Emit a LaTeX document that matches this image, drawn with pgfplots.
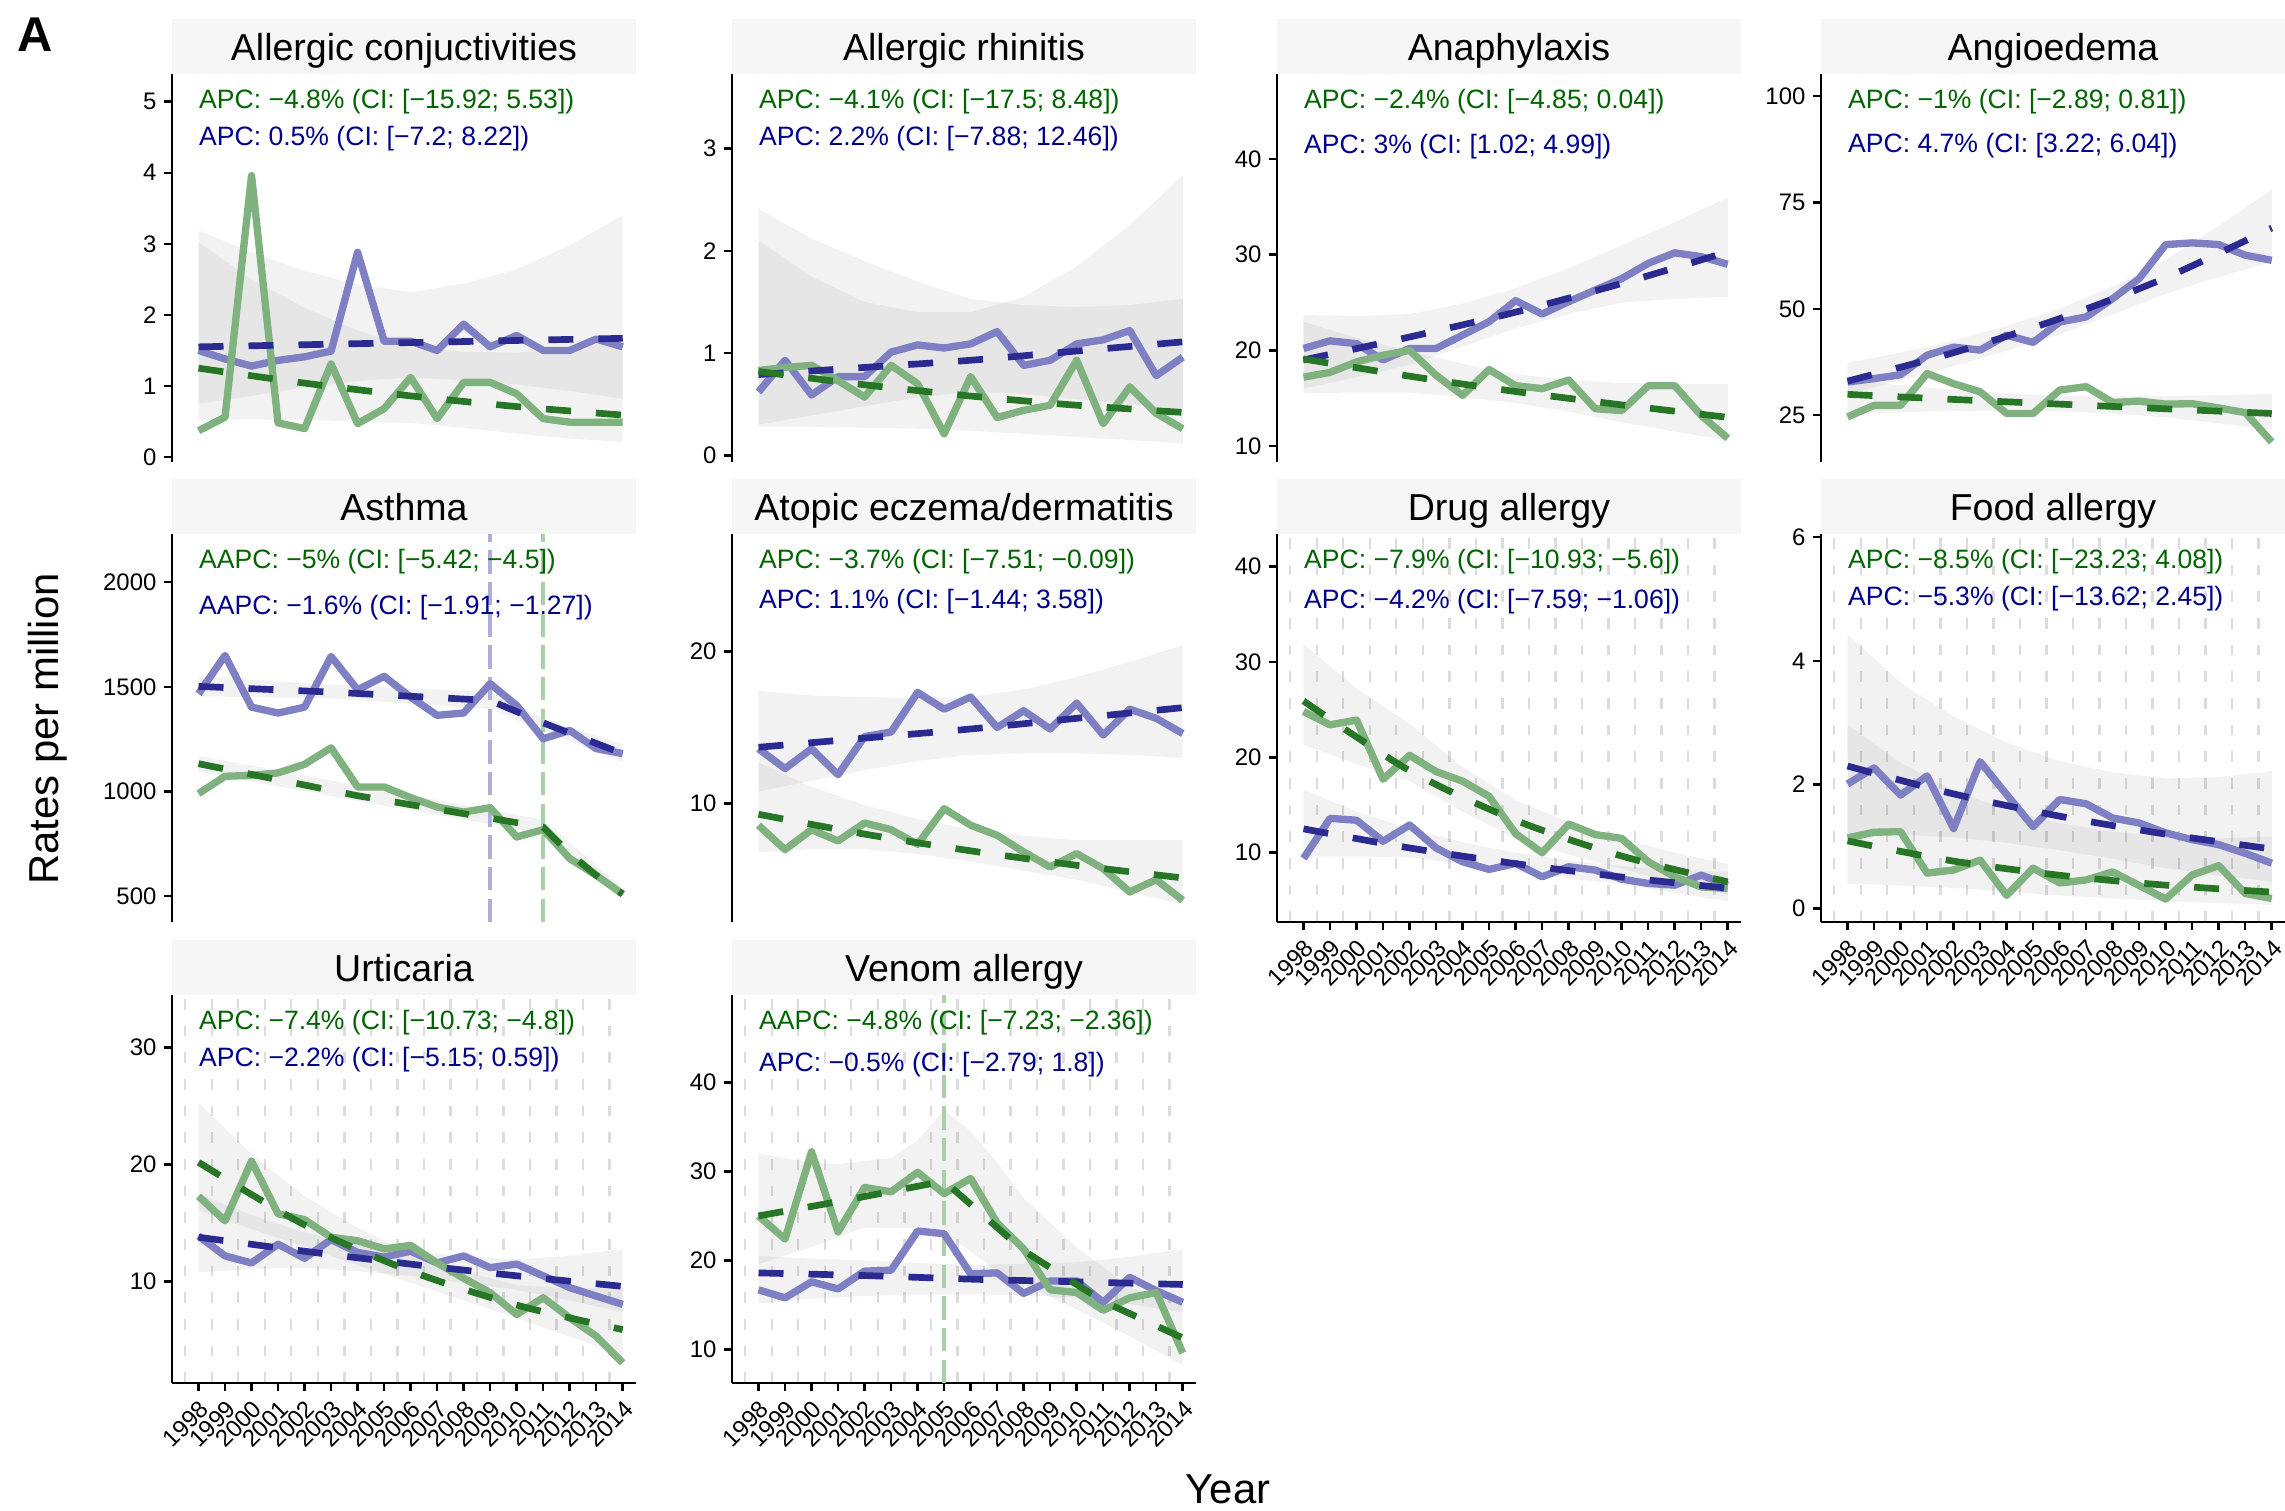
\documentclass[border=0pt]{standalone}
\usepackage{pgfplots}
\pgfplotsset{compat=1.18}
\usepackage{fontspec}
\setmainfont{Liberation Sans}
\definecolor{lineblue}{RGB}{127,127,196}
\definecolor{linegreen}{RGB}{127,178,127}
\definecolor{fitblue}{RGB}{42,42,145}
\definecolor{fitgreen}{RGB}{38,118,38}
\definecolor{txtgreen}{RGB}{0,100,0}
\definecolor{txtblue}{RGB}{0,0,139}
\definecolor{stripfill}{RGB}{246,246,246}
\definecolor{gridgray}{RGB}{220,220,220}
\definecolor{vblue}{RGB}{174,174,222}
\definecolor{vgreen}{RGB}{170,208,170}
\pgfplotsset{
  /pgf/number format/1000 sep={},
  /pgf/number format/assume math mode=true,
  panel/.style={
    scale only axis, width=139.2bp, height=116.4bp, anchor=south west,
    xmin=1997, xmax=2014.5, clip=false,
    axis x line*=bottom, axis y line*=left,
    axis line style={black, line width=0.75bp},
    tick style={black, line width=0.75bp},
    tick align=outside, major tick length=2.5bp,
    minor xtick={1997.5,1998.5,...,2013.5},
    minor tick length=0pt,
    xminorgrids=true,
    minor x grid style={gridgray, line width=0.7bp, dash pattern=on 3.2bp off 4.8bp},
    ticklabel style={font=\fontsize{7.2}{8.6}\selectfont, text=black},
    yticklabel style={inner sep=2pt},
    xtick={1998,1999,...,2014},
    xticklabel style={rotate=45, anchor=north east, inner sep=1.5pt},
  },
  noxaxis/.style={x axis line style={draw=none}, xtick=\empty},
  dataB/.style={lineblue, line width=2.2bp, line join=round},
  dataG/.style={linegreen, line width=2.2bp, line join=round},
  fitB/.style={fitblue, line width=2bp, dash pattern=on 7.5bp off 7.5bp, smooth},
  fitG/.style={fitgreen, line width=2bp, dash pattern=on 7.5bp off 7.5bp, smooth},
  fitBs/.style={fitblue, line width=2bp, dash pattern=on 7.5bp off 7.5bp},
  fitGs/.style={fitgreen, line width=2bp, dash pattern=on 7.5bp off 7.5bp},
  bandfill/.style={fill=black, fill opacity=0.05, draw=none},
  vline/.style={line width=1.2bp, dash pattern=on 7bp off 2.5bp},
}
\newcommand{\stripat}[3]{%
  \fill[stripfill] (#1,#2) rectangle ++(139.2bp,16.5bp);
  \path (#1,#2) ++(69.6bp,3.9bp) node[anchor=base, font=\fontsize{11.3}{13.5}\selectfont, inner sep=0pt] {#3};}
\newcommand{\gtext}[1]{\node[anchor=west, inner sep=0pt, text=txtgreen, font=\fontsize{8}{9.6}\selectfont] at (rel axis cs:0.05714,0.928) {#1};}
\newcommand{\btext}[2]{\node[anchor=west, inner sep=0pt, text=txtblue, font=\fontsize{8}{9.6}\selectfont] at (rel axis cs:0.05714,#1) {#2};}

\begin{document}
\begin{tikzpicture}
\useasboundingbox (0,0) rectangle (685.5bp,453.3bp);

% ---------- Row 1 ----------
\begin{axis}[panel, noxaxis, at={(51.6bp,314.7bp)}, ymin=-0.07, ymax=5.39, ytick={0,1,2,3,4,5}]
\addplot[bandfill] coordinates {(1998,3.19) (2000,2.88) (2002,2.62) (2004,2.43) (2006,2.32) (2008,2.44) (2010,2.64) (2012,2.98) (2014,3.40) (2014,0.82) (2012,0.93) (2010,1.02) (2008,1.08) (2006,1.12) (2004,1.07) (2002,0.98) (2000,0.86) (1998,0.75)};
\addplot[bandfill] coordinates {(1998,3.02) (2000,2.50) (2002,2.10) (2004,1.78) (2006,1.55) (2008,1.48) (2010,1.47) (2012,1.52) (2014,1.65) (2014,0.21) (2012,0.26) (2010,0.33) (2008,0.41) (2006,0.48) (2004,0.50) (2002,0.52) (2000,0.53) (1998,0.52)};
\addplot[dataB] coordinates {(1998,1.50) (1999,1.38) (2000,1.28) (2001,1.36) (2002,1.41) (2003,1.49) (2004,2.88) (2005,1.63) (2006,1.63) (2007,1.50) (2008,1.87) (2009,1.55) (2010,1.71) (2011,1.50) (2012,1.50) (2013,1.66) (2014,1.55)};
\addplot[dataG] coordinates {(1998,0.37) (1999,0.56) (2000,3.96) (2001,0.48) (2002,0.40) (2003,1.31) (2004,0.47) (2005,0.68) (2006,1.12) (2007,0.54) (2008,1.05) (2009,1.05) (2010,0.89) (2011,0.54) (2012,0.49) (2013,0.49) (2014,0.49)};
\addplot[fitB] coordinates {(1998,1.55) (2002,1.58) (2006,1.61) (2010,1.64) (2014,1.67)};
\addplot[fitG] coordinates {(1998,1.25) (2002,1.04) (2006,0.86) (2010,0.71) (2014,0.59)};
\gtext{APC: −4.8\% (CI: [−15.92; 5.53])}
\btext{0.8325}{APC: 0.5\% (CI: [−7.2; 8.22])}
\end{axis}

\begin{axis}[panel, noxaxis, at={(219.6bp,314.7bp)}, ymin=-0.065, ymax=3.73, ytick={0,1,2,3}]
\addplot[bandfill] coordinates {(1998,2.10) (2000,1.75) (2002,1.50) (2004,1.40) (2006,1.40) (2008,1.55) (2010,1.85) (2012,2.25) (2014,2.74) (2014,0.45) (2012,0.50) (2010,0.55) (2008,0.60) (2006,0.62) (2004,0.57) (2002,0.48) (2000,0.39) (1998,0.30)};
\addplot[bandfill] coordinates {(1998,2.41) (2000,2.12) (2002,1.90) (2004,1.70) (2006,1.53) (2008,1.47) (2010,1.45) (2012,1.47) (2014,1.53) (2014,0.117) (2012,0.15) (2010,0.18) (2008,0.21) (2006,0.24) (2004,0.26) (2002,0.27) (2000,0.28) (1998,0.28)};
\addplot[dataB] coordinates {(1998,0.62) (1999,0.93) (2000,0.59) (2001,0.77) (2002,0.77) (2003,1.01) (2004,1.08) (2005,1.05) (2006,1.09) (2007,1.21) (2008,0.88) (2009,0.93) (2010,1.09) (2011,1.13) (2012,1.22) (2013,0.78) (2014,0.96)};
\addplot[dataG] coordinates {(1998,0.83) (1999,0.86) (2000,0.88) (2001,0.73) (2002,0.57) (2003,0.88) (2004,0.70) (2005,0.21) (2006,0.77) (2007,0.37) (2008,0.44) (2009,0.49) (2010,0.93) (2011,0.31) (2012,0.67) (2013,0.41) (2014,0.26)};
\addplot[fitB] coordinates {(1998,0.79) (2002,0.86) (2006,0.93) (2010,1.02) (2014,1.11)};
\addplot[fitG] coordinates {(1998,0.82) (2002,0.69) (2006,0.58) (2010,0.49) (2014,0.42)};
\gtext{APC: −4.1\% (CI: [−17.5; 8.48])}
\btext{0.8325}{APC: 2.2\% (CI: [−7.88; 12.46])}
\end{axis}

\begin{axis}[panel, noxaxis, at={(383.1bp,314.7bp)}, ymin=8.33, ymax=48.9, ytick={10,20,30,40}]
\addplot[bandfill] coordinates {(1998,23.7) (2000,23.6) (2002,23.8) (2004,24.9) (2006,26.5) (2008,28.6) (2010,31.0) (2012,33.4) (2014,36.0) (2014,25.6) (2012,25.4) (2010,25.0) (2008,23.8) (2006,22.3) (2004,20.4) (2002,18.5) (2000,17.2) (1998,16.0)};
\addplot[bandfill] coordinates {(1998,23.0) (2000,21.3) (2002,19.9) (2004,18.6) (2006,17.5) (2008,16.9) (2010,16.6) (2012,16.5) (2014,16.5) (2014,10.6) (2012,11.5) (2010,12.5) (2008,13.6) (2006,14.5) (2004,15.1) (2002,15.6) (2000,15.6) (1998,15.5)};
\addplot[dataB] coordinates {(1998,20.2) (1999,21.0) (2000,20.7) (2001,19.0) (2002,20.2) (2003,20.2) (2004,21.6) (2005,23.0) (2006,25.2) (2007,23.8) (2008,25.1) (2009,26.3) (2010,27.5) (2011,29.1) (2012,30.2) (2013,29.8) (2014,29.0)};
\addplot[dataG] coordinates {(1998,17.2) (1999,17.7) (2000,18.8) (2001,19.5) (2002,20.0) (2003,17.4) (2004,15.3) (2005,18.0) (2006,16.3) (2007,16.0) (2008,16.9) (2009,13.9) (2010,13.7) (2011,16.3) (2012,16.3) (2013,13.2) (2014,10.8)};
\addplot[fitB] coordinates {(1998,19.0) (2002,21.4) (2006,24.0) (2010,27.0) (2014,30.3)};
\addplot[fitG] coordinates {(1998,19.1) (2002,17.3) (2006,15.7) (2010,14.3) (2014,13.0)};
\gtext{APC: −2.4\% (CI: [−4.85; 0.04])}
\btext{0.8126}{APC: 3\% (CI: [1.02; 4.99])}
\end{axis}

\begin{axis}[panel, noxaxis, at={(546.3bp,314.7bp)}, ymin=14.0, ymax=105.2, ytick={25,50,75,100}]
\addplot[bandfill] coordinates {(1998,37.3) (2000,39.7) (2002,42.5) (2004,46.0) (2006,50.0) (2008,55.3) (2010,61.5) (2012,69.5) (2014,78.0) (2014,61.0) (2012,57.5) (2010,53.5) (2008,48.7) (2006,44.0) (2004,40.1) (2002,36.5) (2000,33.2) (1998,30.0)};
\addplot[bandfill] coordinates {(1998,33.5) (2000,32.0) (2002,31.0) (2004,30.1) (2006,29.5) (2008,29.4) (2010,29.5) (2012,29.7) (2014,30.0) (2014,21.5) (2012,23.1) (2010,24.5) (2008,25.4) (2006,26.0) (2004,26.1) (2002,26.0) (2000,25.7) (1998,25.3)};
\addplot[dataB] coordinates {(1998,32.8) (1999,33.6) (2000,34.5) (2001,39.1) (2002,41.0) (2003,40.3) (2004,43.8) (2005,42.1) (2006,46.9) (2007,48.1) (2008,52.4) (2009,57.1) (2010,65.1) (2011,65.5) (2012,65.1) (2013,62.6) (2014,61.4)};
\addplot[dataG] coordinates {(1998,24.6) (1999,27.3) (2000,27.3) (2001,34.8) (2002,32.4) (2003,30.5) (2004,25.4) (2005,25.4) (2006,30.9) (2007,31.7) (2008,28.0) (2009,28.3) (2010,27.6) (2011,27.7) (2012,26.7) (2013,25.6) (2014,18.7)};
\addplot[fitB] coordinates {(1998,33.0) (2002,39.7) (2006,47.7) (2010,57.3) (2014,69.0)};
\addplot[fitG] coordinates {(1998,29.9) (2002,28.7) (2006,27.6) (2010,26.5) (2014,25.4)};
\gtext{APC: −1\% (CI: [−2.89; 0.81])}
\btext{0.815}{APC: 4.7\% (CI: [3.22; 6.04])}
\end{axis}

% ---------- Row 2 ----------
\begin{axis}[panel, noxaxis, at={(51.6bp,176.7bp)}, ymin=377, ymax=2230, ytick={500,1000,1500,2000}]
\addplot[bandfill] coordinates {(1998,1550) (2003,1510) (2009,1475) (2011,1350) (2014,1225) (2014,1140) (2011,1290) (2009,1395) (2003,1445) (1998,1455)};
\addplot[bandfill] coordinates {(1998,1170) (2004,1030) (2011,865) (2014,540) (2014,485) (2011,800) (2004,955) (1998,1095)};
\addplot[vline, vblue] coordinates {(2009,377) (2009,2230)};
\addplot[vline, vgreen] coordinates {(2011,377) (2011,2230)};
\addplot[dataB] coordinates {(1998,1467) (1999,1650) (2000,1403) (2001,1375) (2002,1403) (2003,1645) (2004,1486) (2005,1550) (2006,1451) (2007,1364) (2008,1375) (2009,1515) (2010,1411) (2011,1252) (2012,1292) (2013,1205) (2014,1181)};
\addplot[dataG] coordinates {(1998,990) (1999,1073) (2000,1077) (2001,1089) (2002,1130) (2003,1209) (2004,1022) (2005,1022) (2006,971) (2007,926) (2008,902) (2009,923) (2010,783) (2011,818) (2012,680) (2013,600) (2014,510)};
\addplot[fitBs] coordinates {(1998,1502) (2003,1475) (2009,1435) (2011,1328) (2014,1181)};
\addplot[fitGs] coordinates {(1998,1133) (2004,980) (2011,830) (2012,705) (2013,600) (2014,510)};
\gtext{AAPC: −5\% (CI: [−5.42; −4.5])}
\btext{0.811}{AAPC: −1.6\% (CI: [−1.91; −1.27])}
\end{axis}

\begin{axis}[panel, noxaxis, at={(219.6bp,176.7bp)}, ymin=2.23, ymax=27.7, ytick={10,20}]
\addplot[bandfill] coordinates {(1998,17.4) (2000,17.1) (2002,17.0) (2004,16.9) (2006,17.0) (2008,17.5) (2010,18.3) (2012,19.3) (2014,20.4) (2014,13.0) (2012,13.2) (2010,13.3) (2008,13.3) (2006,13.2) (2004,12.8) (2002,12.2) (2000,11.5) (1998,10.8)};
\addplot[bandfill] coordinates {(1998,12.7) (2000,11.1) (2002,9.9) (2004,9.0) (2006,8.3) (2008,7.9) (2010,7.6) (2012,7.6) (2014,7.6) (2014,3.4) (2012,4.2) (2010,5.0) (2008,5.6) (2006,6.2) (2004,6.7) (2002,7.0) (2000,7.0) (1998,6.8)};
\addplot[dataB] coordinates {(1998,13.6) (1999,12.3) (2000,13.6) (2001,11.9) (2002,14.4) (2003,14.7) (2004,17.3) (2005,16.2) (2006,17.0) (2007,15.0) (2008,16.1) (2009,14.9) (2010,16.6) (2011,14.5) (2012,16.2) (2013,15.6) (2014,14.6)};
\addplot[dataG] coordinates {(1998,8.58) (1999,6.98) (2000,8.29) (2001,7.55) (2002,8.73) (2003,8.29) (2004,7.33) (2005,9.67) (2006,8.58) (2007,7.92) (2008,6.83) (2009,5.84) (2010,6.72) (2011,5.73) (2012,4.20) (2013,5.01) (2014,3.65)};
\addplot[fitB] coordinates {(1998,13.7) (2002,14.3) (2006,14.9) (2010,15.6) (2014,16.3)};
\addplot[fitG] coordinates {(1998,9.30) (2002,8.0) (2006,6.9) (2010,5.95) (2014,5.12)};
\gtext{APC: −3.7\% (CI: [−7.51; −0.09])}
\btext{0.8255}{APC: 1.1\% (CI: [−1.44; 3.58])}
\end{axis}

\begin{axis}[panel, at={(383.1bp,176.7bp)}, ymin=2.74, ymax=43.4, ytick={10,20,30,40}]
\addplot[bandfill] coordinates {(1998,31.9) (2000,27.2) (2002,23.5) (2004,19.0) (2006,15.5) (2008,13.2) (2010,11.5) (2012,10.0) (2014,8.8) (2014,5.6) (2012,6.9) (2010,8.3) (2008,9.8) (2006,11.5) (2004,14.3) (2002,17.5) (2000,19.3) (1998,21.3)};
\addplot[bandfill] coordinates {(1998,16.6) (2000,14.3) (2002,12.5) (2004,11.1) (2006,10.0) (2008,9.2) (2010,8.6) (2012,8.2) (2014,8.0) (2014,4.9) (2012,5.8) (2010,6.7) (2008,7.3) (2006,8.0) (2004,8.8) (2002,9.5) (2000,9.6) (1998,9.6)};
\addplot[dataB] coordinates {(1998,9.40) (1999,13.6) (2000,13.4) (2001,11.2) (2002,12.9) (2003,10.5) (2004,9.05) (2005,8.25) (2006,8.88) (2007,7.48) (2008,8.53) (2009,8.18) (2010,7.23) (2011,6.78) (2012,6.60) (2013,7.65) (2014,6.60)};
\addplot[dataG] coordinates {(1998,24.8) (1999,23.4) (2000,23.9) (2001,17.7) (2002,20.2) (2003,18.5) (2004,17.5) (2005,15.9) (2006,12.0) (2007,10.0) (2008,13.0) (2009,11.9) (2010,11.5) (2011,9.05) (2012,7.48) (2013,6.42) (2014,6.25)};
\addplot[fitB] coordinates {(1998,12.5) (2002,10.5) (2006,8.85) (2010,7.45) (2014,6.28)};
\addplot[fitG] coordinates {(1998,25.9) (2002,18.6) (2006,13.4) (2010,9.65) (2014,6.95)};
\gtext{APC: −7.9\% (CI: [−10.93; −5.6])}
\btext{0.8255}{APC: −4.2\% (CI: [−7.59; −1.06])}
\end{axis}

\begin{axis}[panel, at={(546.3bp,176.7bp)}, ymin=-0.22, ymax=6.05, ytick={0,2,4,6}]
\addplot[bandfill] coordinates {(1998,4.43) (2000,3.65) (2002,3.1) (2004,2.68) (2006,2.38) (2008,2.2) (2010,2.1) (2012,2.12) (2014,2.22) (2014,0.43) (2012,0.53) (2010,0.65) (2008,0.80) (2006,0.94) (2004,1.06) (2002,1.15) (2000,1.19) (1998,1.19)};
\addplot[bandfill] coordinates {(1998,2.97) (2000,2.35) (2002,1.9) (2004,1.6) (2006,1.38) (2008,1.24) (2010,1.15) (2012,1.13) (2014,1.16) (2014,0.058) (2012,0.085) (2010,0.12) (2008,0.16) (2006,0.21) (2004,0.27) (2002,0.33) (2000,0.37) (1998,0.40)};
\addplot[dataB] coordinates {(1998,2.01) (1999,2.27) (2000,1.83) (2001,2.14) (2002,1.29) (2003,2.37) (2004,1.84) (2005,1.32) (2006,1.76) (2007,1.69) (2008,1.46) (2009,1.38) (2010,1.22) (2011,1.11) (2012,1.03) (2013,0.89) (2014,0.73)};
\addplot[dataG] coordinates {(1998,1.14) (1999,1.23) (2000,1.24) (2001,0.57) (2002,0.62) (2003,0.78) (2004,0.21) (2005,0.65) (2006,0.41) (2007,0.46) (2008,0.59) (2009,0.37) (2010,0.15) (2011,0.54) (2012,0.69) (2013,0.24) (2014,0.16)};
\addplot[fitB] coordinates {(1998,2.30) (2002,1.85) (2006,1.49) (2010,1.20) (2014,0.96)};
\addplot[fitG] coordinates {(1998,1.09) (2002,0.764) (2006,0.535) (2010,0.375) (2014,0.263)};
\gtext{APC: −8.5\% (CI: [−23.23; 4.08])}
\btext{0.8325}{APC: −5.3\% (CI: [−13.62; 2.45])}
\end{axis}

% ---------- Row 3 ----------
\begin{axis}[panel, at={(51.6bp,38.4bp)}, ymin=1.34, ymax=34.5, ytick={10,20,30}]
\addplot[bandfill] coordinates {(1998,17.5) (2000,15.7) (2002,14.2) (2004,13.2) (2006,12.6) (2008,12.2) (2010,11.9) (2012,12.2) (2014,12.8) (2014,7.4) (2012,8.4) (2010,9.3) (2008,9.9) (2006,10.5) (2004,10.9) (2002,11.2) (2000,11.1) (1998,10.8)};
\addplot[bandfill] coordinates {(1998,25.3) (2000,20.9) (2002,17.3) (2004,14.6) (2006,12.4) (2008,10.9) (2010,9.7) (2012,9.4) (2014,9.5) (2014,3.7) (2012,5.3) (2010,6.9) (2008,8.4) (2006,9.9) (2004,11.4) (2002,13.0) (2000,14.5) (1998,16.1)};
\addplot[dataB] coordinates {(1998,13.9) (1999,12.2) (2000,11.6) (2001,13.2) (2002,12.0) (2003,13.6) (2004,12.5) (2005,12.1) (2006,12.6) (2007,11.6) (2008,12.2) (2009,11.2) (2010,11.5) (2011,10.5) (2012,9.49) (2013,8.77) (2014,8.06)};
\addplot[dataG] coordinates {(1998,17.3) (1999,15.2) (2000,20.3) (2001,15.8) (2002,15.3) (2003,13.8) (2004,13.5) (2005,12.8) (2006,13.1) (2007,11.6) (2008,10.3) (2009,9.06) (2010,7.2) (2011,8.63) (2012,6.91) (2013,5.34) (2014,3.06)};
\addplot[fitB] coordinates {(1998,13.8) (2002,12.6) (2006,11.5) (2010,10.5) (2014,9.6)};
\addplot[fitG] coordinates {(1998,20.2) (2002,14.85) (2006,10.9) (2010,8.0) (2014,5.9)};
\gtext{APC: −7.4\% (CI: [−10.73; −4.8])}
\btext{0.8325}{APC: −2.2\% (CI: [−5.15; 0.59])}
\end{axis}

\begin{axis}[panel, at={(219.6bp,38.4bp)}, ymin=6.24, ymax=49.8, ytick={10,20,30,40}]
\addplot[bandfill] coordinates {(1998,20.5) (2000,20.2) (2002,20.0) (2004,19.7) (2006,19.5) (2008,19.6) (2010,19.8) (2012,20.4) (2014,21.3) (2014,14.2) (2012,15.1) (2010,15.8) (2008,16.1) (2006,16.2) (2004,16.2) (2002,16.0) (2000,15.7) (1998,15.2)};
\addplot[bandfill] coordinates {(1998,32.0) (2000,31.0) (2001,30.8) (2003,31.5) (2004,33.5) (2005,36.9) (2006,34.5) (2007,31.0) (2008,27.0) (2010,21.5) (2012,17.0) (2014,15.0) (2014,8.2) (2012,11.5) (2010,14.5) (2007,18.8) (2006,21.0) (2005,23.0) (2004,23.6) (2002,23.7) (2000,21.5) (1998,19.6)};
\addplot[vline, vgreen] coordinates {(2005,6.24) (2005,49.8)};
\addplot[dataB] coordinates {(1998,16.7) (1999,15.8) (2000,17.6) (2001,16.8) (2002,18.8) (2003,18.9) (2004,23.3) (2005,23.0) (2006,18.5) (2007,18.6) (2008,16.3) (2009,17.7) (2010,17.7) (2011,15.3) (2012,18.1) (2013,16.6) (2014,15.3)};
\addplot[dataG] coordinates {(1998,25.0) (1999,22.4) (2000,32.2) (2001,23.2) (2002,28.2) (2003,27.7) (2004,29.9) (2005,27.5) (2006,29.2) (2007,24.2) (2008,21.3) (2009,16.7) (2010,16.4) (2011,14.4) (2012,15.8) (2013,16.4) (2014,9.6)};
\addplot[fitB] coordinates {(1998,18.6) (2002,18.3) (2006,17.9) (2010,17.6) (2014,17.3)};
\addplot[fitGs] coordinates {(1998,25.0) (2001,26.6) (2005,28.9) (2008,21.1) (2011,15.4) (2014,11.3)};
\gtext{AAPC: −4.8\% (CI: [−7.23; −2.36])}
\btext{0.8196}{APC: −0.5\% (CI: [−2.79; 1.8])}
\end{axis}

% ---------- strips ----------
\stripat{51.6bp}{431.1bp}{Allergic conjuctivities}
\stripat{219.6bp}{431.1bp}{Allergic rhinitis}
\stripat{383.1bp}{431.1bp}{Anaphylaxis}
\stripat{546.3bp}{431.1bp}{Angioedema}
\stripat{51.6bp}{293.1bp}{Asthma}
\stripat{219.6bp}{293.1bp}{Atopic eczema/dermatitis}
\stripat{383.1bp}{293.1bp}{Drug allergy}
\stripat{546.3bp}{293.1bp}{Food allergy}
\stripat{51.6bp}{154.8bp}{Urticaria}
\stripat{219.6bp}{154.8bp}{Venom allergy}

% ---------- global labels ----------
\node[rotate=90, font=\fontsize{12.6}{15}\selectfont] at (14.4bp,234.6bp) {Rates per million};
\node[font=\fontsize{12.6}{15}\selectfont] at (368.4bp,6.6bp) {Year};
\node[font=\fontsize{14.7}{17}\selectfont\bfseries] at (10.5bp,442.95bp) {A};
\end{tikzpicture}
\end{document}
